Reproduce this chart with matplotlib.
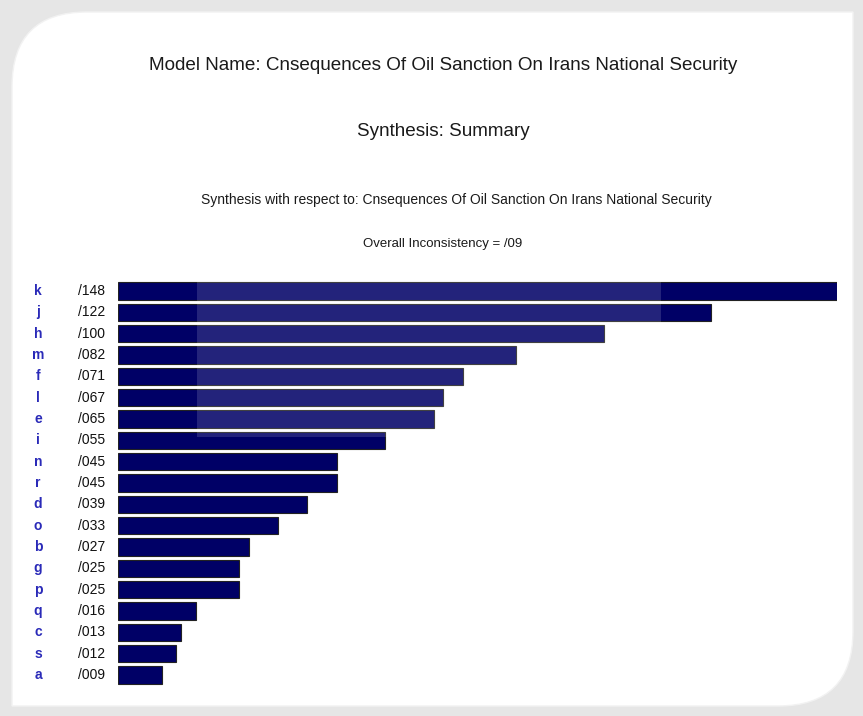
import matplotlib
matplotlib.use('Agg')
import matplotlib.pyplot as plt
import matplotlib.transforms as mtransforms
from matplotlib.path import Path
from matplotlib.patches import PathPatch, Rectangle

names = ['k', 'j', 'h', 'm', 'f', 'l', 'e', 'i', 'n', 'r', 'd', 'o', 'b', 'g', 'p', 'q', 'c', 's', 'a']
weights = [0.148, 0.122, 0.100, 0.082, 0.071, 0.067, 0.065, 0.055, 0.045, 0.045,
           0.039, 0.033, 0.027, 0.025, 0.025, 0.016, 0.013, 0.012, 0.009]
value_labels = ['/148', '/122', '/100', '/082', '/071', '/067', '/065', '/055', '/045', '/045',
                '/039', '/033', '/027', '/025', '/025', '/016', '/013', '/012', '/009']

title = 'Model Name: Cnsequences Of Oil Sanction On Irans National Security'
subtitle = 'Synthesis: Summary'
respect = 'Synthesis with respect to: Cnsequences Of Oil Sanction On Irans National Security'
inconsistency = 'Overall Inconsistency = /09'

W, H = 863, 716
fig = plt.figure(figsize=(W / 100, H / 100), dpi=100)
fig.patch.set_facecolor('#e6e6e6')

arial = ['Liberation Sans', 'DejaVu Sans']


def px(x, y):
    return x / W, 1 - y / H


# white card, rounded top-left and bottom-right
L, T, R, B, r = 12, 12, 853, 706, 75
verts = [px(L, T + r), px(L, T), px(L + r, T), px(R, T), px(R, B - r),
         px(R, B), px(R - r, B), px(L, B), px(L, T + r)]
codes = [Path.MOVETO, Path.CURVE3, Path.CURVE3, Path.LINETO, Path.LINETO,
         Path.CURVE3, Path.CURVE3, Path.LINETO, Path.CLOSEPOLY]
fig.patches.append(PathPatch(Path(verts, codes), transform=fig.transFigure,
                             facecolor='white', edgecolor='#f2f2f2', lw=1, zorder=-2))

fig.text(443 / W, 1 - 65 / H, title, ha='center', va='center', fontsize=13.6,
         family=arial, color='#1a1a1a')
fig.text(443 / W, 1 - 132 / H, subtitle, ha='center', va='center', fontsize=13.6,
         family=arial, color='#1a1a1a')
fig.text(456 / W, 1 - 200 / H, respect, ha='center', va='center', fontsize=10,
         family=arial, color='#1a1a1a')
fig.text(443 / W, 1 - 244 / H, inconsistency, ha='center', va='center', fontsize=9.5,
         family=arial, color='#1a1a1a')

# axes geometry in pixels
x0, x1 = 118, 837
y_first, y_last = 291, 675
step = (y_last - y_first) / (len(names) - 1)
top = y_first - step / 2
bottom = y_last + step / 2
ax = fig.add_axes([x0 / W, 1 - bottom / H, (x1 - x0) / W, (bottom - top) / H])
ax.set_xlim(0, max(weights))
ax.set_ylim(len(names) - 0.5, -0.5)
ax.axis('off')

pos = list(range(len(names)))
ax.barh(pos, weights, height=0.8, color='#000066', edgecolor='#222222', linewidth=0.8)

trans = mtransforms.blended_transform_factory(fig.transFigure, ax.transData)
for i, (n, lab) in enumerate(zip(names, value_labels)):
    ax.text(38 / W, i, n, transform=trans, ha='center', va='center', fontsize=10,
            fontweight='bold', color='#2a2ab8', family=arial, clip_on=False)
    ax.text(78 / W, i, lab, transform=trans, ha='left', va='center', fontsize=10,
            color='#111111', family=arial, clip_on=False)

# faint watermark overlay on upper bars
fig.patches.append(Rectangle(px(197, 437), (661 - 197) / W, (437 - 280) / H,
                             transform=fig.transFigure, facecolor='white',
                             alpha=0.14, edgecolor='none', zorder=5))

fig.savefig('out.png', dpi=100, facecolor=fig.get_facecolor())
